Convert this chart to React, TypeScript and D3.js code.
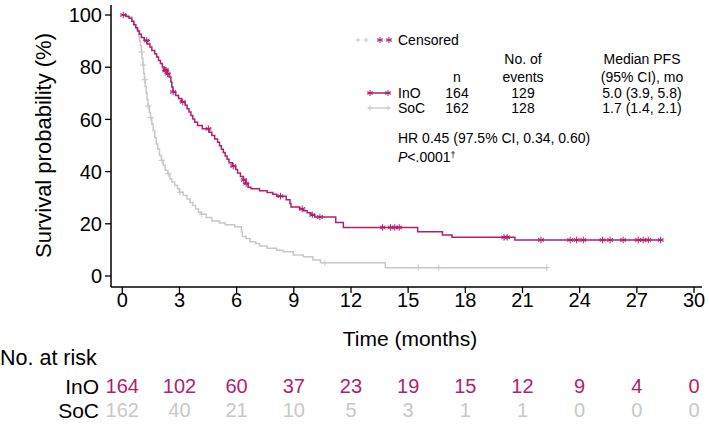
import React from "react";
import * as d3 from "d3";

// Kaplan-Meier step data [time (months), survival %]
const inoSteps: [number, number][] = [
  [0, 100], [0.2, 99.4], [0.35, 98.8], [0.5, 97.6], [0.6, 96.3], [0.7, 95.1], [0.8, 93.9],
  [0.9, 92.6], [1.0, 91.4], [1.15, 90.2], [1.3, 88.9], [1.45, 87.7], [1.55, 86.4], [1.7, 85.2],
  [1.8, 83.9], [1.9, 82.6], [2.0, 81.4], [2.1, 80.1], [2.2, 78.8], [2.35, 77.5], [2.45, 76.2],
  [2.55, 74.3], [2.6, 72.4], [2.66, 70.5], [2.8, 69.2], [2.95, 68.0], [3.1, 66.7], [3.3, 65.4],
  [3.4, 64.1], [3.5, 62.8], [3.6, 61.5], [3.7, 60.2], [3.8, 58.9], [3.95, 57.7], [4.2, 56.4],
  [4.55, 55.1], [4.7, 53.8], [4.85, 52.5], [5.0, 51.2], [5.1, 49.9], [5.2, 48.6], [5.3, 47.3],
  [5.4, 46.0], [5.5, 44.7], [5.6, 43.4], [5.78, 42.1], [5.95, 40.8], [6.05, 39.5], [6.2, 38.1],
  [6.35, 36.8], [6.48, 35.4], [6.6, 34.0], [6.75, 33.4], [7.2, 32.7], [7.6, 32.0], [7.9, 31.3],
  [8.1, 30.6], [8.6, 29.2], [8.8, 27.8], [8.85, 26.4], [9.3, 25.7], [9.5, 25.0], [9.7, 24.2],
  [9.9, 23.4], [10.1, 22.6], [11.2, 20.5], [11.6, 18.6], [15.5, 17.0], [16.8, 15.7],
  [17.3, 14.8], [20.6, 13.8], [28.25, 13.8],
];
const inoCensored: number[] = [
  0.05, 1.28, 2.25, 2.3, 2.38, 2.67, 3.17, 4.52, 5.82, 6.38, 6.5, 8.3, 9.44, 9.97, 10.37,
  13.66, 14.08, 14.3, 14.53, 20.03, 20.2, 21.97, 23.5, 23.84, 24.19, 25.2, 25.6, 26.28,
  27.07, 27.33, 27.6, 28.25,
];

const socSteps: [number, number][] = [
  [0, 100], [0.3, 99.4], [0.5, 97.5], [0.65, 96.3], [0.75, 94.4], [0.85, 92.0], [0.9, 90.1],
  [0.95, 88.3], [1.0, 85.8], [1.03, 83.3], [1.08, 80.8], [1.12, 77.7], [1.16, 75.2],
  [1.2, 72.6], [1.25, 70.1], [1.3, 67.6], [1.35, 65.1], [1.42, 62.6], [1.48, 60.7],
  [1.55, 58.2], [1.62, 55.7], [1.7, 53.1], [1.78, 50.6], [1.86, 48.7], [1.95, 46.2],
  [2.05, 44.3], [2.15, 42.4], [2.25, 40.5], [2.38, 39.2], [2.5, 37.3], [2.6, 36.0],
  [2.75, 34.7], [2.9, 33.4], [3.0, 32.1], [3.2, 30.8], [3.4, 29.5], [3.55, 28.2], [3.7, 27.0],
  [3.85, 25.7], [4.0, 24.4], [4.15, 23.7], [4.4, 22.4], [4.7, 21.1], [5.1, 20.3], [5.4, 19.6],
  [5.9, 18.9], [6.25, 17.0], [6.3, 15.1], [6.5, 14.4], [6.7, 13.1], [7.0, 12.5], [7.2, 11.5],
  [7.6, 10.6], [8.1, 9.9], [8.45, 9.3], [8.97, 8.0], [9.5, 7.4], [10.0, 6.1], [10.4, 5.1],
  [13.8, 3.2], [22.27, 3.2],
];
const socCensored: number[] = [1.02, 1.1, 1.19, 1.36, 1.49, 2.08, 2.41, 3.03, 4.17, 10.63, 15.53, 16.6, 22.27];

const xTicks = [0, 3, 6, 9, 12, 15, 18, 21, 24, 27, 30];
const yTicks = [0, 20, 40, 60, 80, 100];
const inoAtRisk = [164, 102, 60, 37, 23, 19, 15, 12, 9, 4, 0];
const socAtRisk = [162, 40, 21, 10, 5, 3, 1, 1, 0, 0, 0];

const INO = "#B01E6F";
const SOC = "#C8C8C8";
const FONT = "'Liberation Sans', Arial, sans-serif";

function valueAt(steps: [number, number][], t: number) {
  let v = steps[0][1];
  for (const [st, sv] of steps) {
    if (st <= t) v = sv;
  }
  return v;
}

const Asterisk = ({ x, y, r, color }: { x: number; y: number; r: number; color: string }) => {
  const a = Math.PI / 3;
  return (
    <g stroke={color} strokeWidth={1}>
      {[0, 1, 2].map((k) => (
        <line key={k}
          x1={x - r * Math.cos(a * k + Math.PI / 2)} y1={y - r * Math.sin(a * k + Math.PI / 2)}
          x2={x + r * Math.cos(a * k + Math.PI / 2)} y2={y + r * Math.sin(a * k + Math.PI / 2)} />
      ))}
      <line x1={x - r} y1={y} x2={x + r} y2={y} />
    </g>
  );
};

const Plus = ({ x, y, r, color }: { x: number; y: number; r: number; color: string }) => (
  <g stroke={color} strokeWidth={1}>
    <line x1={x - r} y1={y} x2={x + r} y2={y} />
    <line x1={x} y1={y - r} x2={x} y2={y + r} />
  </g>
);

export default function App() {
  const x = d3.scaleLinear().domain([0, 30]).range([122.3, 694]);
  const y = d3.scaleLinear().domain([0, 100]).range([276, 15]);
  const line = d3
    .line<[number, number]>()
    .x((d) => x(d[0]))
    .y((d) => y(d[1]))
    .curve(d3.curveStepAfter);

  const axisX0 = 111;
  const axisY0 = 287;

  return (
    <svg width={709} height={427} style={{ position: "absolute", left: 0, top: 0, background: "#fff" }}
      fontFamily={FONT}>
      {/* axes */}
      <line x1={axisX0} y1={5} x2={axisX0} y2={axisY0} stroke="#000" strokeWidth={1.5} />
      <line x1={axisX0} y1={axisY0} x2={702} y2={axisY0} stroke="#000" strokeWidth={1.5} />
      {yTicks.map((t) => (
        <g key={"y" + t}>
          <line x1={axisX0 - 6} x2={axisX0} y1={y(t)} y2={y(t)} stroke="#000" strokeWidth={1.3} />
          <text x={axisX0 - 9} y={y(t)} dy="0.36em" textAnchor="end" fontSize={20}>{t}</text>
        </g>
      ))}
      {xTicks.map((t) => (
        <g key={"x" + t}>
          <line x1={x(t)} x2={x(t)} y1={axisY0} y2={axisY0 + 6} stroke="#000" strokeWidth={1.3} />
          <text x={x(t)} y={300} dy="0.36em" textAnchor="middle" fontSize={20}>{t}</text>
        </g>
      ))}
      <text x={410} y={338} dy="0.36em" textAnchor="middle" fontSize={21}>Time (months)</text>
      <text transform={`translate(43,${(y(0) + y(100)) / 2}) rotate(-90)`} dy="0.36em" textAnchor="middle" fontSize={22}>
        Survival probability (%)
      </text>

      {/* curves */}
      <path d={line(socSteps) || ""} fill="none" stroke={SOC} strokeWidth={1.5} />
      <path d={line(inoSteps) || ""} fill="none" stroke={INO} strokeWidth={1.5} />
      {socCensored.map((t, i) => (
        <Plus key={"sc" + i} x={x(t)} y={y(valueAt(socSteps, t))} r={3.2} color={SOC} />
      ))}
      {inoCensored.map((t, i) => (
        <Asterisk key={"ic" + i} x={x(t)} y={y(valueAt(inoSteps, t))} r={3.3} color={INO} />
      ))}

      {/* legend */}
      <g fontSize={14}>
        <Plus x={358} y={40} r={2.5} color={SOC} />
        <Plus x={366} y={40} r={2.5} color={SOC} />
        <Asterisk x={380} y={40} r={3} color={INO} />
        <Asterisk x={389} y={40} r={3} color={INO} />
        <text x={398} y={40} dy="0.36em">Censored</text>

        <text x={523} y={59} dy="0.36em" textAnchor="middle">No. of</text>
        <text x={642} y={59} dy="0.36em" textAnchor="middle">Median PFS</text>
        <text x={457} y={77} dy="0.36em" textAnchor="middle">n</text>
        <text x={523} y={77} dy="0.36em" textAnchor="middle">events</text>
        <text x={642} y={77} dy="0.36em" textAnchor="middle">(95% CI), mo</text>

        <line x1={368} x2={390} y1={93} y2={93} stroke={INO} strokeWidth={1.5} />
        <Asterisk x={370} y={93} r={3} color={INO} />
        <Asterisk x={388} y={93} r={3} color={INO} />
        <text x={398} y={93} dy="0.36em">InO</text>
        <text x={457} y={93} dy="0.36em" textAnchor="middle">164</text>
        <text x={523} y={93} dy="0.36em" textAnchor="middle">129</text>
        <text x={642} y={93} dy="0.36em" textAnchor="middle">5.0 (3.9, 5.8)</text>

        <line x1={368} x2={390} y1={108} y2={108} stroke={SOC} strokeWidth={1.3} />
        <Plus x={370} y={108} r={2.5} color={SOC} />
        <Plus x={388} y={108} r={2.5} color={SOC} />
        <text x={398} y={108} dy="0.36em">SoC</text>
        <text x={457} y={108} dy="0.36em" textAnchor="middle">162</text>
        <text x={523} y={108} dy="0.36em" textAnchor="middle">128</text>
        <text x={642} y={108} dy="0.36em" textAnchor="middle">1.7 (1.4, 2.1)</text>

        <text x={398} y={138} dy="0.36em">HR 0.45 (97.5% CI, 0.34, 0.60)</text>
        <text x={398} y={157} dy="0.36em">
          <tspan fontStyle="italic">P</tspan>&lt;.0001<tspan fontSize={9} dy="-0.5em">†</tspan>
        </text>
      </g>

      {/* at-risk table */}
      <text x={0} y={357} dy="0.36em" fontSize={21.5}>No. at risk</text>
      <text x={99} y={386} dy="0.36em" fontSize={21} textAnchor="end">InO</text>
      <text x={99} y={410} dy="0.36em" fontSize={21} textAnchor="end">SoC</text>
      {inoAtRisk.map((v, i) => (
        <text key={"ri" + i} x={x(xTicks[i])} y={386} dy="0.36em" fontSize={20} textAnchor="middle" fill={INO}>{v}</text>
      ))}
      {socAtRisk.map((v, i) => (
        <text key={"rs" + i} x={x(xTicks[i])} y={410} dy="0.36em" fontSize={20} textAnchor="middle" fill={SOC}>{v}</text>
      ))}
    </svg>
  );
}
